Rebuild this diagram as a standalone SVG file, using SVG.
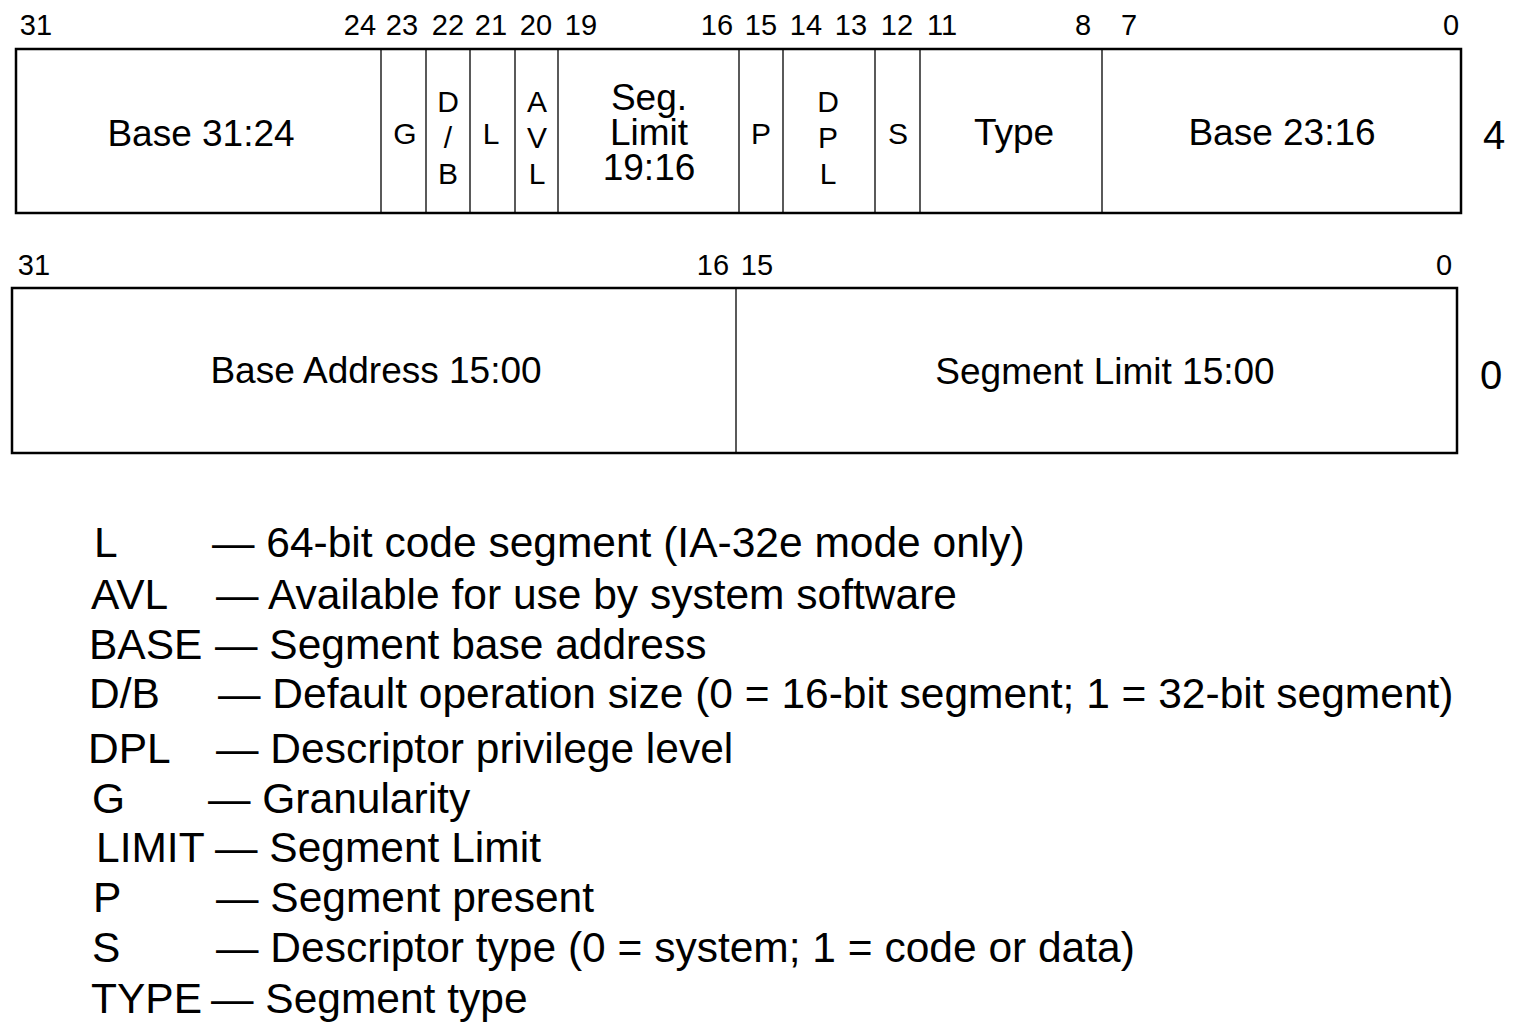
<svg xmlns="http://www.w3.org/2000/svg" width="1521" height="1025" viewBox="0 0 1521 1025">
<style>
text{font-family:"Liberation Sans",Arial,Helvetica,sans-serif;fill:#000}
.bit{font-size:29px;text-anchor:middle}
.lbl{font-size:37px;text-anchor:middle}
.sm{font-size:30px;text-anchor:middle}
.row{font-size:40px;text-anchor:middle}
.leg{font-size:42.5px}
.outer{fill:#fff;stroke:#000;stroke-width:2.5}
.div{stroke:#000;stroke-width:1.3}
</style>
<rect width="1521" height="1025" fill="#fff"/>
<g id="bits-top">
<text class="bit" x="36" y="35">31</text>
<text class="bit" x="360" y="35">24</text>
<text class="bit" x="402" y="35">23</text>
<text class="bit" x="448" y="35">22</text>
<text class="bit" x="491" y="35">21</text>
<text class="bit" x="536" y="35">20</text>
<text class="bit" x="581" y="35">19</text>
<text class="bit" x="717" y="35">16</text>
<text class="bit" x="761" y="35">15</text>
<text class="bit" x="806" y="35">14</text>
<text class="bit" x="851" y="35">13</text>
<text class="bit" x="897" y="35">12</text>
<text class="bit" x="942" y="35">11</text>
<text class="bit" x="1083" y="35">8</text>
<text class="bit" x="1129" y="35">7</text>
<text class="bit" x="1451" y="35">0</text>
</g>
<g id="word4">
<rect class="outer" x="16" y="49" width="1445" height="164"/>
<line class="div" x1="381" y1="49" x2="381" y2="213"/>
<line class="div" x1="426" y1="49" x2="426" y2="213"/>
<line class="div" x1="470" y1="49" x2="470" y2="213"/>
<line class="div" x1="515" y1="49" x2="515" y2="213"/>
<line class="div" x1="558" y1="49" x2="558" y2="213"/>
<line class="div" x1="739" y1="49" x2="739" y2="213"/>
<line class="div" x1="783" y1="49" x2="783" y2="213"/>
<line class="div" x1="875" y1="49" x2="875" y2="213"/>
<line class="div" x1="920" y1="49" x2="920" y2="213"/>
<line class="div" x1="1102" y1="49" x2="1102" y2="213"/>
<text class="lbl" x="201" y="146">Base 31:24</text>
<text class="sm" x="405" y="144">G</text>
<text class="sm" x="448" y="112">D</text>
<text class="sm" x="448" y="148">/</text>
<text class="sm" x="448" y="184">B</text>
<text class="sm" x="491" y="144">L</text>
<text class="sm" x="537" y="112">A</text>
<text class="sm" x="537" y="148">V</text>
<text class="sm" x="537" y="184">L</text>
<text class="lbl" x="649" y="110">Seg.</text>
<text class="lbl" x="649" y="145">Limit</text>
<text class="lbl" x="649" y="180">19:16</text>
<text class="sm" x="761" y="144">P</text>
<text class="sm" x="828" y="112">D</text>
<text class="sm" x="828" y="148">P</text>
<text class="sm" x="828" y="184">L</text>
<text class="sm" x="898" y="144">S</text>
<text class="lbl" x="1014" y="145">Type</text>
<text class="lbl" x="1282" y="145">Base 23:16</text>
<text class="row" x="1494" y="149">4</text>
</g>
<g id="bits-bottom">
<text class="bit" x="34" y="275">31</text>
<text class="bit" x="713" y="275">16</text>
<text class="bit" x="757" y="275">15</text>
<text class="bit" x="1444" y="275">0</text>
</g>
<g id="word0">
<rect class="outer" x="12" y="288" width="1445" height="165"/>
<line class="div" x1="736" y1="288" x2="736" y2="453"/>
<text class="lbl" x="376" y="383">Base Address 15:00</text>
<text class="lbl" x="1105" y="384">Segment Limit 15:00</text>
<text class="row" x="1491" y="389">0</text>
</g>
<g id="legend">
<text class="leg" x="94" y="557">L</text><text class="leg" x="212" y="557">— 64-bit code segment (IA-32e mode only)</text>
<text class="leg" x="91" y="609">AVL</text><text class="leg" x="216" y="609">— Available for use by system software</text>
<text class="leg" x="89" y="659">BASE</text><text class="leg" x="215" y="659">— Segment base address</text>
<text class="leg" x="89" y="708">D/B</text><text class="leg" x="218" y="708">— Default operation size (0 = 16-bit segment; 1 = 32-bit segment)</text>
<text class="leg" x="88" y="763">DPL</text><text class="leg" x="216" y="763">— Descriptor privilege level</text>
<text class="leg" x="92" y="813">G</text><text class="leg" x="208" y="813">— Granularity</text>
<text class="leg" x="96" y="862">LIMIT</text><text class="leg" x="215" y="862">— Segment Limit</text>
<text class="leg" x="93" y="912">P</text><text class="leg" x="216" y="912">— Segment present</text>
<text class="leg" x="92" y="962">S</text><text class="leg" x="216" y="962">— Descriptor type (0 = system; 1 = code or data)</text>
<text class="leg" x="91" y="1013">TYPE</text><text class="leg" x="211" y="1013">— Segment type</text>
</g>
</svg>
